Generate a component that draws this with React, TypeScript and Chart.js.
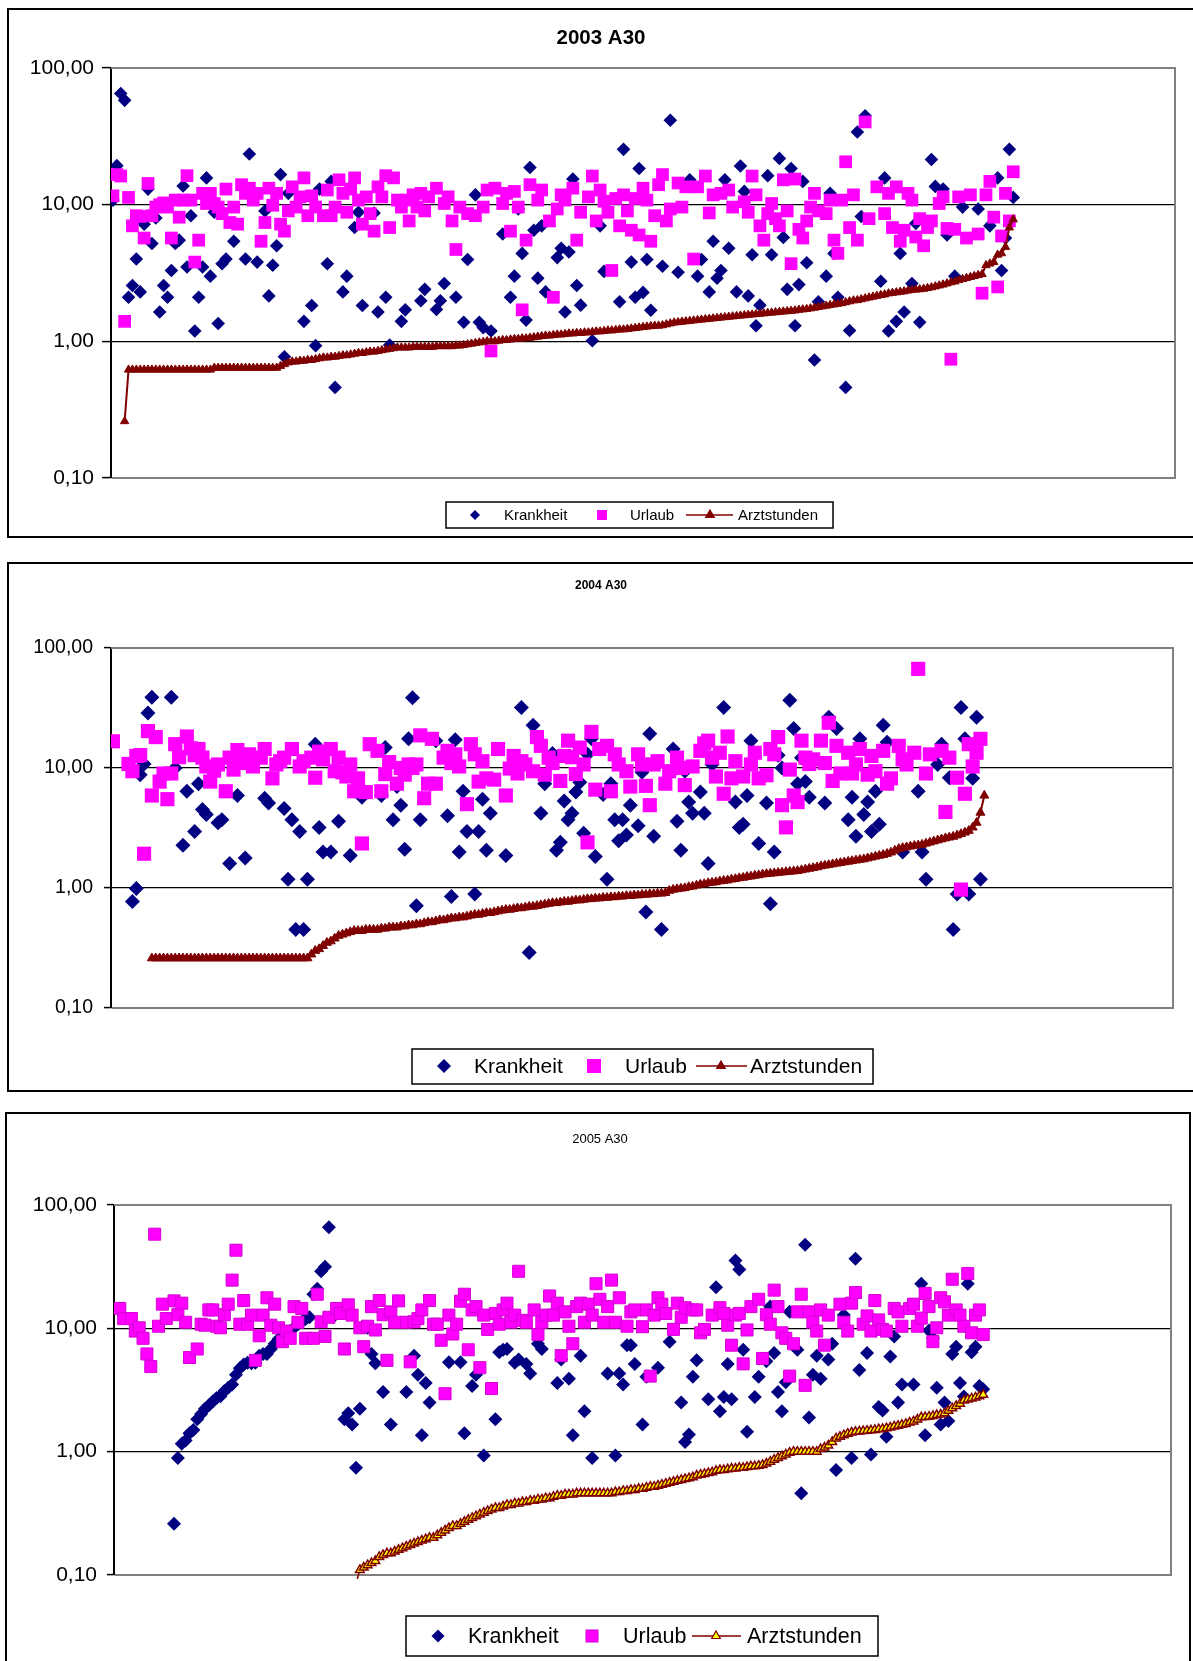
import React, { useEffect, useRef } from 'react';
import { Chart, registerables } from 'chart.js';

Chart.register(...registerables);

const FONT = '"Liberation Sans", Arial, Helvetica, sans-serif';

// ---------- shared axis / text data ----------
const CATEGORY_COUNT = 273;
const yTickValues = [0.1, 1, 10, 100];
const yTickLabels = ['0,10', '1,00', '10,00', '100,00'];
const seriesNames = ['Krankheit', 'Urlaub', 'Arztstunden'];
const chartTitles = ['2003 A30', '2004 A30', '2005 A30'];

type Pair = [number, number]; // [category index, value]

// ---------- 2003 ----------
const krankheit2003: Pair[] = [
  [0,10.8],[1,19.3],[2,65],[3,58],[4,2.1],[5,2.56],[6,4.0],[7,2.3],[8,7.2],[9,13],[10,5.2],[11,8.0],[12,1.64],[13,2.56],[14,2.1],[15,3.3],[16,5.2],[17,5.5],[18,13.7],[19,3.5],[20,8.3],[21,1.19],[22,2.1],[23,3.5],[24,15.7],[25,3.0],[26,8.8],[27,1.35],[28,3.7],[29,4.0],[31,5.4],[34,4.0],[35,23.5],[37,3.8],[39,9.0],[40,2.15],[41,3.6],[42,5.0],[43,16.6],[44,0.77],[45,12.1],[49,1.4],[51,1.83],[52,0.93],[53,13],[55,3.7],[56,14.8],[57,0.46],[59,2.3],[60,3.0],[62,6.8],[63,8.8],[64,1.83],[67,8.7],[68,1.64],[70,2.1],[71,0.94],[74,1.4],[75,1.7],[79,1.98],[80,2.4],[83,1.71],[84,1.98],[85,2.65],[88,2.1],[90,1.38],[91,3.97],[93,11.8],[94,1.38],[95,1.26],[97,1.19],[100,6.1],[102,2.1],[103,3.0],[104,9.3],[105,4.4],[106,1.43],[107,18.7],[108,6.5],[109,2.9],[110,7.0],[111,2.3],[114,4.1],[115,4.8],[116,1.64],[117,4.5],[118,15.4],[119,2.56],[120,1.84],[123,1.01],[125,7.0],[126,3.25],[130,1.95],[131,25.4],[133,3.8],[134,2.1],[135,18.4],[136,2.28],[137,3.97],[138,1.69],[141,3.54],[143,41.5],[145,3.2],[148,15.2],[150,3.0],[151,3.97],[153,2.3],[154,5.4],[155,2.9],[156,3.3],[157,15.2],[158,4.8],[160,2.3],[161,19.2],[162,12.5],[163,2.15],[164,4.3],[165,1.3],[166,1.84],[168,16.3],[169,4.3],[171,21.8],[172,5.76],[173,2.4],[174,18.4],[175,1.3],[176,2.6],[177,14.8],[178,3.76],[180,0.73],[181,1.95],[183,3.0],[184,12.1],[185,4.4],[186,2.1],[188,0.46],[189,1.2],[191,34],[192,8.2],[193,44.7],[197,2.75],[198,15.7],[199,1.19],[201,1.4],[202,4.4],[203,1.64],[205,2.65],[206,7.3],[207,1.38],[210,21.4],[211,13.6],[213,13],[214,6.0],[216,3.0],[218,9.6],[222,9.3],[225,7.0],[227,15.7],[228,3.3],[229,5.7],[230,25.4],[231,11.3]
];
const urlaub2003: Pair[] = [
  [0,11.6],[1,16.6],[2,16.2],[3,1.4],[4,11.3],[5,7],[6,8.3],[7,8.2],[8,5.7],[9,14.3],[10,8.3],[11,9.6],[12,10],[13,10.3],[14,9.6],[15,5.7],[16,10.8],[17,8.1],[18,10.8],[19,16.3],[20,10.8],[21,3.8],[22,5.5],[23,12.1],[24,10.2],[25,12.1],[26,10.2],[27,9.6],[28,8.6],[29,13],[30,7.4],[31,9.6],[32,7.2],[33,14],[34,12.1],[35,13.2],[36,10.8],[37,12.1],[38,5.4],[39,7.4],[40,13.2],[41,9.9],[42,12.1],[43,7.2],[44,6.4],[45,9],[46,13.5],[47,9.6],[48,11.4],[49,15.7],[50,8.3],[51,11.6],[52,9.6],[54,8.3],[55,12.8],[56,8.3],[57,9.6],[58,15.2],[59,12.1],[60,8.8],[61,13],[62,15.7],[63,10.8],[64,7.2],[65,11.4],[66,8.6],[67,6.4],[68,13.5],[69,11.4],[70,16.3],[71,6.8],[72,15.7],[73,10.8],[74,9.6],[75,10.8],[76,7.6],[77,11.8],[78,9.6],[79,12.1],[80,9],[81,11.4],[83,13.2],[85,10.2],[86,11.4],[87,7.6],[88,4.7],[89,9.6],[91,8.6],[93,8.3],[95,9.6],[96,12.8],[97,0.85],[98,13.2],[100,10.2],[101,12.1],[102,6.4],[103,12.5],[104,9.6],[105,1.7],[106,5.5],[107,14],[109,10.8],[110,12.8],[112,7.6],[113,2.1],[114,9.3],[115,11.8],[116,10.8],[118,13.2],[119,5.5],[120,8.8],[122,11.4],[123,16.2],[124,7.6],[125,12.8],[126,10.6],[127,8.8],[128,3.3],[129,11.1],[130,7.0],[131,11.8],[132,9],[133,6.5],[134,11.1],[135,6.0],[136,13.2],[137,10.8],[138,5.4],[139,8.3],[140,14],[141,16.6],[142,7.6],[143,9.3],[145,14.4],[146,9.6],[147,13.5],[149,4.0],[150,13.5],[152,16.2],[153,8.7],[154,11.8],[156,12.1],[158,12.8],[159,9.6],[162,10.5],[163,8.8],[164,16.2],[165,11.8],[166,7.0],[167,5.5],[168,8.6],[169,10.2],[170,7.9],[171,7.0],[172,15.2],[173,9],[174,3.7],[175,15.4],[176,6.6],[177,5.7],[178,7.6],[179,9.6],[180,12.1],[181,9],[183,8.6],[184,10.8],[185,5.5],[186,4.4],[187,10.8],[188,20.6],[189,6.8],[190,11.8],[191,5.5],[193,40.3],[194,7.9],[196,13.5],[198,8.6],[199,12.1],[200,6.8],[201,13.5],[202,5.4],[203,6.5],[204,12.1],[205,10.8],[206,5.8],[207,7.9],[208,5.0],[209,6.8],[210,7.6],[212,10.2],[213,11.4],[214,6.7],[215,0.74],[216,6.6],[217,11.4],[219,5.7],[220,11.8],[222,6.1],[223,2.25],[224,11.8],[225,14.8],[226,8.1],[227,2.5],[228,5.9],[229,12.1],[230,7.6],[231,17.4]
];
const arzt2003Start = 3;
const arzt2003: number[] = [
  0.26,
  0.62,0.62,0.62,0.62,0.62,0.62,0.62,0.62,0.62,0.62,0.62,0.62,0.62,0.62,0.62,0.62,0.62,0.62,0.62,0.62,0.62,0.62,
  0.64,0.64,0.64,0.64,0.64,0.64,0.64,0.64,0.64,0.64,0.64,0.64,0.64,0.64,0.64,0.64,0.64,
  0.66,0.68,0.70,0.71,0.71,0.72,0.72,0.73,0.73,0.74,0.75,0.76,0.76,0.77,0.77,0.78,0.79,0.79,0.8,0.81,0.82,0.82,0.83,0.84,0.84,0.85,0.86,0.87,0.88,0.89,0.9,0.9,0.9,0.9,0.91,0.91,0.91,0.91,
  0.91,0.91,0.92,0.92,0.92,0.92,0.92,0.93,0.93,
  0.94,0.95,0.96,0.97,0.98,0.99,1.0,1.0,1.0,1.01,
  1.02,1.02,1.03,1.04,1.04,1.05,1.05,1.06,1.07,1.08,
  1.09,1.1,1.1,1.11,1.12,1.12,1.13,1.14,1.14,1.15,
  1.15,1.16,1.16,1.17,1.18,1.18,1.19,1.2,1.2,1.21,
  1.22,1.22,1.23,1.24,1.25,1.26,1.27,1.28,1.29,1.3,
  1.3,1.31,1.33,1.35,1.37,1.38,1.39,1.4,1.41,1.42,
  1.43,1.44,1.45,1.46,1.47,1.48,1.49,1.5,1.51,1.52,
  1.53,1.54,1.55,1.56,1.57,1.58,1.59,1.6,1.61,1.62,
  1.63,1.64,1.65,1.66,1.67,1.68,1.7,1.71,1.72,1.74,
  1.76,1.78,1.8,1.82,1.84,1.86,1.88,1.9,1.93,1.96,
  1.99,2.0,2.03,2.06,2.09,2.12,2.15,2.18,2.2,2.24,
  2.26,2.28,2.3,2.32,2.35,2.37,2.39,2.4,2.42,2.45,
  2.48,2.52,2.56,2.6,2.65,2.7,2.74,2.8,2.85,2.9,
  2.95,3.0,3.05,3.1,3.6,3.7,3.8,4.3,4.4,4.9,
  6.8,7.8
];

// ---------- 2004 ----------
const krankheit2004: Pair[] = [
  [5,0.77],[6,0.99],[7,8.8],[8,10.8],[9,28.7],[10,38.8],[15,38.8],[16,10],[18,2.27],[19,6.4],[21,2.96],[22,7.4],[23,4.5],[24,4.1],[27,3.5],[28,3.7],[30,1.6],[32,5.9],[34,1.78],[39,5.6],[40,5.1],[44,4.6],[45,1.18],[46,3.7],[47,0.45],[48,2.96],[49,0.45],[50,1.18],[52,15.8],[53,3.2],[54,2.0],[56,2.0],[58,3.6],[61,1.87],[64,5.7],[69,5.9],[70,14.8],[72,3.7],[73,7.0],[74,4.9],[75,2.1],[76,17.5],[77,38.5],[78,0.71],[79,3.7],[83,16.9],[86,4.0],[87,0.85],[88,17.2],[89,2.0],[90,6.4],[91,2.96],[93,0.89],[94,2.96],[95,5.5],[96,2.06],[97,4.2],[101,1.87],[105,32],[107,0.29],[108,22.7],[110,4.2],[111,7.4],[113,13.2],[114,2.06],[115,2.4],[116,5.3],[117,3.7],[118,4.2],[119,6.3],[120,7.6],[121,2.86],[122,13],[123,17.5],[124,1.83],[126,6],[127,1.18],[128,7.4],[129,3.7],[130,2.48],[131,3.7],[132,2.77],[133,4.9],[135,3.3],[136,9.2],[137,0.63],[138,19.3],[139,2.7],[141,0.45],[144,14.4],[145,3.6],[146,2.06],[147,9.4],[148,5.2],[149,4.2],[151,6.3],[152,4.2],[153,1.6],[154,10.7],[157,32],[160,5.2],[161,3.2],[162,3.4],[163,5.9],[164,16.9],[166,2.35],[168,5.1],[169,0.74],[170,2.0],[171,12.8],[172,10],[174,36.7],[175,21.3],[176,7.4],[177,12.2],[178,7.7],[179,5.7],[183,5.1],[184,26.5],[186,21.3],[189,3.7],[190,5.7],[191,2.7],[192,17.5],[193,4.1],[194,5.2],[195,2.96],[196,6.4],[197,3.4],[198,22.7],[199,16.4],[203,2.0],[207,6.4],[208,2.0],[209,1.18],[212,10.7],[213,15.8],[215,8.3],[216,0.45],[217,0.89],[218,32],[219,17.5],[220,0.89],[221,8.2],[222,26.5],[223,1.18]
];
const urlaub2004: Pair[] = [
  [0,16.7],[4,10.8],[5,9.4],[6,12.6],[7,12.8],[8,1.93],[9,20.3],[10,5.9],[11,18.1],[12,7.7],[13,9],[14,5.5],[15,9],[16,15.8],[17,12.3],[19,18.3],[20,14.6],[21,12.8],[22,14.4],[23,12.2],[24,10.3],[25,7.7],[26,9.5],[27,10.7],[29,6.4],[30,12.2],[31,9.7],[32,14.1],[33,11],[34,11.8],[35,13],[36,10.3],[38,12.2],[39,14.4],[41,8.2],[42,10.7],[43,11.4],[44,12.2],[46,14.4],[48,10.3],[49,11.4],[51,12.2],[52,8.3],[53,13.7],[54,11.8],[56,14.4],[57,9.4],[58,12.2],[59,9.2],[60,8.5],[61,10.7],[62,6.4],[63,8.2],[64,2.35],[65,6.3],[66,15.8],[68,13.9],[69,6.4],[70,8.9],[71,11.2],[73,7.4],[74,10],[75,8.8],[76,10.7],[77,10.0],[78,10.7],[79,18.7],[80,5.6],[81,7.4],[82,17.5],[83,7.4],[85,12.2],[86,13.9],[87,11],[88,13],[89,10.3],[91,5],[92,15.8],[93,13],[94,7.7],[95,11.4],[96,8.2],[98,8],[99,14.4],[101,5.9],[102,9.9],[103,12.6],[104,9],[105,11.4],[106,10.7],[108,9.4],[109,18.1],[110,15.3],[111,8.8],[112,12.2],[113,11],[115,7.8],[116,12.6],[117,16.9],[118,12.3],[119,8.9],[120,14.8],[121,10.7],[122,2.4],[123,20],[124,6.6],[125,14.4],[127,15.3],[128,6.4],[129,13],[130,10.7],[132,9.4],[133,7],[135,13],[136,10.7],[137,7.1],[138,4.9],[139,10.7],[140,11.4],[142,7.4],[143,9.4],[145,12.2],[146,10],[147,7.2],[149,10.3],[151,13.9],[152,16],[153,16.9],[154,12.2],[155,8.5],[156,13.4],[157,6.1],[158,18.3],[159,8.2],[160,11.4],[162,8.5],[164,10.7],[165,13.4],[166,8.2],[168,8.7],[169,14.4],[170,13],[171,18.1],[172,4.9],[173,3.2],[174,9.7],[175,5.9],[176,5.2],[177,16.9],[178,12.2],[179,10.8],[180,11.8],[182,16.9],[183,11],[184,23.8],[185,7.8],[186,15.3],[187,9],[189,13.4],[190,9],[191,10.7],[192,14.4],[194,8.8],[195,12.6],[196,9.4],[198,13.9],[199,7.4],[200,8.2],[202,15.3],[203,11.8],[204,10.7],[206,13.4],[207,67],[209,9],[210,13],[213,13.9],[214,4.3],[215,12.2],[217,8.3],[218,0.97],[219,6.1],[220,15.8],[221,10.3],[222,13.4],[223,17.5]
];
const arzt2004Start = 10;
const arzt2004: number[] = [
  0.26,0.26,0.26,0.26,0.26,0.26,0.26,0.26,0.26,0.26,
  0.26,0.26,0.26,0.26,0.26,0.26,0.26,0.26,0.26,0.26,
  0.26,0.26,0.26,0.26,0.26,0.26,0.26,0.26,0.26,0.26,
  0.26,0.26,0.26,0.26,0.26,0.26,0.26,0.26,0.26,0.26,
  0.26,
  0.28,0.3,0.31,0.33,0.35,0.36,0.38,0.4,0.41,
  0.42,0.43,0.44,0.44,0.44,0.45,0.45,0.45,0.45,0.46,
  0.46,0.47,0.47,0.47,0.48,0.48,0.49,0.49,0.5,0.5,
  0.51,0.52,0.52,0.53,0.54,0.54,0.55,0.56,0.56,0.57,
  0.57,0.58,0.59,0.6,0.6,0.61,0.62,0.62,0.63,0.64,
  0.65,0.66,0.66,0.67,0.68,0.68,0.69,0.7,0.7,0.71,
  0.72,0.73,0.74,0.75,0.75,0.76,0.77,0.77,0.78,0.79,
  0.79,0.8,0.81,0.81,0.82,0.82,0.83,0.83,0.84,0.84,
  0.85,0.85,0.86,0.86,0.87,0.87,0.88,0.88,0.89,0.89,
  0.9,0.9,0.91,0.95,0.97,0.98,0.99,1.0,1.02,1.03,
  1.05,1.07,1.08,1.1,1.11,1.12,1.14,1.15,1.16,1.18,
  1.19,1.21,1.22,1.24,1.25,1.27,1.28,1.3,1.31,1.32,
  1.33,1.34,1.35,1.36,1.37,1.38,1.39,1.41,1.43,1.45,
  1.47,1.49,1.52,1.54,1.56,1.58,1.6,1.62,1.64,1.66,
  1.68,1.7,1.72,1.74,1.77,1.8,1.83,1.86,1.89,1.93,
  1.98,2.05,2.12,2.16,2.19,2.22,2.25,2.27,2.3,2.35,
  2.4,2.45,2.5,2.55,2.6,2.64,2.68,2.75,2.82,2.9,
  3.0,3.2,3.5,4.25,5.9
];

// ---------- 2005 ----------
const krankheit2005: Pair[] = [
  [15,0.26],[16,0.89],[17,1.16],[18,1.23],[19,1.41],[20,1.5],[21,1.83],[22,2.02],[23,2.23],[24,2.38],[25,2.55],[26,2.72],[27,2.81],[28,3.1],[29,3.3],[30,3.5],[31,4.2],[32,4.75],[33,5.1],[34,5.25],[35,5.2],[36,5.25],[37,6.0],[38,6.2],[39,6.2],[40,6.8],[41,7.5],[42,8.2],[43,8.6],[44,9.3],[45,9.5],[46,10.1],[47,10.8],[48,11.3],[49,11.9],[50,12.3],[51,18.9],[52,20.9],[53,29],[54,31.6],[55,66],[56,12.3],[59,1.83],[60,2.05],[61,1.66],[62,0.74],[63,2.23],[65,10.1],[66,6.2],[67,5.2],[69,3.04],[71,1.66],[75,3.04],[77,6.0],[78,4.2],[79,1.36],[80,3.6],[81,2.5],[86,5.3],[89,5.3],[90,1.41],[92,3.4],[93,4.2],[95,0.93],[98,1.83],[99,6.4],[100,6.7],[101,6.8],[103,5.25],[104,5.6],[106,5.15],[107,4.3],[109,7.5],[110,6.8],[114,3.6],[115,5.6],[117,3.9],[118,1.36],[120,6.0],[121,2.13],[123,0.89],[127,4.3],[129,0.93],[130,4.3],[131,3.5],[132,7.3],[133,7.3],[134,5.15],[136,1.66],[137,4.05],[140,4.8],[143,7.8],[146,2.5],[147,1.2],[148,1.38],[149,4.05],[150,5.5],[153,2.66],[155,21.5],[156,2.13],[157,2.77],[158,5.15],[159,2.66],[160,35.5],[161,30],[162,6.7],[163,1.45],[165,2.77],[166,4.05],[168,5.4],[169,15],[170,6.3],[171,3.04],[172,2.13],[173,3.65],[174,13.6],[176,6.7],[177,0.46],[178,47.6],[179,1.89],[180,4.2],[181,6.0],[182,3.9],[184,5.6],[185,7.5],[186,0.71],[188,12.8],[190,0.89],[191,36.6],[192,4.6],[194,6.3],[195,0.95],[197,2.3],[198,2.16],[199,1.32],[200,5.9],[201,8.6],[202,2.5],[203,3.5],[205,15],[206,3.5],[208,23],[209,1.36],[210,9.6],[211,8.3],[212,3.3],[213,1.66],[214,2.5],[215,1.77],[216,6.2],[217,7.1],[218,3.6],[219,2.8],[220,23],[221,6.4],[222,7.1],[223,3.4],[224,3.2]
];
const urlaub2005: Pair[] = [
  [1,14.5],[2,12],[4,12],[5,9.5],[6,10.1],[7,8.3],[8,6.2],[9,4.9],[10,58],[11,10.4],[12,15.7],[13,12],[15,16.7],[16,12.9],[17,16],[18,11.2],[19,5.8],[21,6.8],[22,10.8],[23,10.6],[24,14.1],[25,14.1],[26,10.4],[27,10.1],[28,12.9],[29,15.7],[30,24.6],[31,43],[32,10.8],[33,16.8],[34,10.8],[35,12.8],[36,5.5],[37,8.7],[38,12.8],[39,17.7],[40,10.6],[41,15.7],[42,10.1],[43,7.8],[44,9.5],[45,8.3],[46,15],[47,11.2],[48,14.5],[49,8.3],[51,8.3],[52,18.9],[53,11.3],[54,8.6],[55,12.3],[57,14.5],[58,13.2],[59,6.8],[60,15.5],[61,12.8],[63,10.1],[64,7.1],[65,10.4],[66,15],[67,9.7],[68,16.8],[69,12.9],[70,5.5],[71,13.6],[72,11.2],[73,16.7],[75,11.2],[76,5.35],[77,11.3],[78,12.0],[79,14.1],[81,16.8],[82,10.8],[83,10.8],[84,8],[85,2.95],[86,12.8],[87,9],[88,10.8],[89,16.6],[90,18.9],[91,6.7],[92,14.1],[93,15],[94,4.8],[95,12.8],[96,9.8],[97,3.25],[98,13.2],[99,10.8],[100,14.1],[101,16],[102,11.2],[103,12.8],[104,29],[105,11.6],[106,11.2],[108,14.1],[109,8.9],[110,11.2],[111,12.8],[112,18.3],[113,12.8],[114,16],[115,6],[116,13.6],[117,10.4],[118,7.5],[119,15],[120,16],[121,11.2],[122,15.7],[123,12.8],[124,23],[125,17.2],[126,11.2],[127,15],[128,24.6],[129,11.2],[130,17.7],[132,10.4],[133,13.6],[134,14.1],[136,10.3],[137,14.1],[138,4.1],[139,12.8],[140,17.7],[141,15.7],[142,13.2],[144,9.8],[145,16],[146,12.3],[147,14.7],[149,14.1],[150,14.1],[151,9.2],[152,9.8],[154,12.8],[156,14.7],[157,13.2],[158,10.6],[159,7.3],[160,12.8],[161,13.2],[162,5.15],[163,9.7],[164,15],[166,17.2],[167,5.7],[168,12.9],[169,10.8],[170,20.4],[171,15],[172,9.2],[173,8.3],[174,4.1],[175,7.5],[176,13.6],[177,18.9],[178,3.45],[179,13.6],[180,11.2],[181,9.5],[182,14.1],[183,7.3],[184,12.8],[187,15.7],[188,11.2],[189,9.5],[190,16],[191,19.5],[193,10.8],[194,12.6],[195,9.5],[196,16.8],[197,11.7],[198,9.8],[199,9.5],[201,14.5],[202,13.6],[203,10.4],[205,14.5],[206,15.7],[207,10.4],[208,12.1],[209,19.2],[210,15],[211,7.8],[212,10.1],[213,17.7],[214,16.4],[215,12.8],[216,25],[217,14.1],[218,12.8],[219,10.4],[220,27.8],[221,9.2],[222,12.8],[223,14.1],[224,8.9]
];
const arzt2005Start = 62;
const arzt2005: number[] = [
  0.085,0.11,0.115,0.12,0.125,0.13,0.14,0.145,
  0.15,0.15,0.155,0.16,0.165,0.17,0.175,0.18,0.185,0.19,
  0.195,0.2,0.2,0.21,0.22,0.23,0.24,0.25,0.25,0.26,
  0.27,0.28,0.29,0.3,0.31,0.32,0.33,0.34,0.35,0.35,
  0.36,0.37,0.37,0.38,0.38,0.39,0.39,0.4,0.4,0.41,
  0.41,0.42,0.42,0.43,0.44,0.44,0.45,0.45,0.45,0.46,
  0.46,0.46,0.46,0.46,0.46,0.46,0.46,0.46,0.46,0.47,
  0.47,0.48,0.48,0.49,0.49,0.5,0.5,0.51,0.52,0.52,
  0.53,0.54,0.55,0.56,0.57,0.58,0.59,0.6,0.61,0.62,
  0.64,0.65,0.66,0.67,0.68,0.7,0.71,0.71,0.72,0.73,
  0.73,0.74,0.74,0.75,0.76,0.76,0.77,0.78,0.8,0.83,
  0.86,0.89,0.92,0.95,0.98,1.0,1.0,1.0,1.0,1.0,
  1.0,1.0,1.05,1.08,1.12,1.2,1.28,1.32,1.36,1.4,
  1.43,1.45,1.46,1.47,1.48,1.49,1.5,1.52,1.53,1.55,
  1.57,1.6,1.62,1.65,1.68,1.72,1.76,1.82,1.9,1.91,
  1.92,1.95,1.98,2.0,2.05,2.15,2.25,2.35,2.45,2.6,
  2.65,2.7,2.75,2.82,2.9
];

// ---------- layout / style (page coordinates) ----------
interface PanelDef {
  title: string;
  titleFont: number;
  titleBold: boolean;
  titleX: number;
  titleY: number;
  krankheit: Pair[];
  urlaub: Pair[];
  arztStart: number;
  arzt: number[];
  frame: { left: number; top: number; width: number; height: number };
  canvas: { left: number; top: number; width: number; height: number };
  plot: { left: number; top: number; right: number; bottom: number };
  tickFont: number;
  tickLength: number;
  tickPadding: number;
  diamondR: number;
  squareR: number;
  squareBorder: string | null;
  triR: number;
  triFill: string;
  triBorderW: number;
  lineW: number;
  legend: {
    x: number; y: number; w: number; h: number; cy: number; font: number;
    dX: number; dR: number; t1: number; sX: number; sHalf: number; t2: number;
    l1: number; l2: number; tX: number; tR: number; t3: number;
  };
}

const panels: PanelDef[] = [
  {
    title: chartTitles[0], titleFont: 20.5, titleBold: true, titleX: 601, titleY: 38,
    krankheit: krankheit2003, urlaub: urlaub2003, arztStart: arzt2003Start, arzt: arzt2003,
    frame: { left: 7, top: 8, width: 1300, height: 530 },
    canvas: { left: 9, top: 10, width: 1184, height: 526 },
    plot: { left: 111, top: 68, right: 1175, bottom: 478 },
    tickFont: 21, tickLength: 9, tickPadding: 8,
    diamondR: 6.8, squareR: 9, squareBorder: null, triR: 4.8, triFill: '#800000', triBorderW: 1, lineW: 2,
    legend: { x: 446, y: 502, w: 387, h: 26, cy: 515, font: 15,
      dX: 475, dR: 5, t1: 504, sX: 602, sHalf: 5, t2: 630, l1: 686, l2: 733, tX: 710, tR: 5, t3: 738 },
  },
  {
    title: chartTitles[1], titleFont: 12, titleBold: true, titleX: 601, titleY: 586,
    krankheit: krankheit2004, urlaub: urlaub2004, arztStart: arzt2004Start, arzt: arzt2004,
    frame: { left: 7, top: 562, width: 1300, height: 530 },
    canvas: { left: 9, top: 564, width: 1184, height: 526 },
    plot: { left: 111, top: 648, right: 1173, bottom: 1008 },
    tickFont: 19.5, tickLength: 7, tickPadding: 11,
    diamondR: 7.5, squareR: 10, squareBorder: null, triR: 5.2, triFill: '#800000', triBorderW: 1, lineW: 2,
    legend: { x: 412, y: 1049, w: 461, h: 35, cy: 1066, font: 21,
      dX: 444, dR: 7, t1: 474, sX: 594, sHalf: 7, t2: 625, l1: 696, l2: 747, tX: 721, tR: 5, t3: 750 },
  },
  {
    title: chartTitles[2], titleFont: 13, titleBold: false, titleX: 600, titleY: 1139,
    krankheit: krankheit2005, urlaub: urlaub2005, arztStart: arzt2005Start, arzt: arzt2005,
    frame: { left: 5, top: 1112, width: 1186, height: 600 },
    canvas: { left: 7, top: 1114, width: 1183, height: 547 },
    plot: { left: 114, top: 1205, right: 1171, bottom: 1575 },
    tickFont: 21, tickLength: 7, tickPadding: 10,
    diamondR: 7, squareR: 8.5, squareBorder: '#D400D4', triR: 5, triFill: '#FFFF00', triBorderW: 1.5, lineW: 1.5,
    legend: { x: 406, y: 1616, w: 472, h: 40, cy: 1636, font: 21.5,
      dX: 438, dR: 6.5, t1: 468, sX: 592, sHalf: 6, t2: 623, l1: 692, l2: 741, tX: 716, tR: 5, t3: 747 },
  },
];

const Y_AXIS_WIDTH = 95;

function diamondPath(ctx: CanvasRenderingContext2D, x: number, y: number, r: number) {
  ctx.beginPath();
  ctx.moveTo(x, y - r);
  ctx.lineTo(x + r, y);
  ctx.lineTo(x, y + r);
  ctx.lineTo(x - r, y);
  ctx.closePath();
}
function trianglePath(ctx: CanvasRenderingContext2D, x: number, y: number, r: number) {
  ctx.beginPath();
  let a = 0;
  ctx.moveTo(x + Math.sin(a) * r, y - Math.cos(a) * r);
  a += (2 * Math.PI) / 3;
  ctx.lineTo(x + Math.sin(a) * r, y - Math.cos(a) * r);
  a += (2 * Math.PI) / 3;
  ctx.lineTo(x + Math.sin(a) * r, y - Math.cos(a) * r);
  ctx.closePath();
}

function makeDecorPlugin(p: PanelDef) {
  const ox = p.canvas.left;
  const oy = p.canvas.top;
  return {
    id: 'panelDecor',
    beforeDatasetsDraw(chart: any) {
      const { ctx, chartArea: a } = chart;
      ctx.save();
      ctx.strokeStyle = '#808080';
      ctx.lineWidth = 2;
      ctx.beginPath();
      ctx.moveTo(a.left, a.top);
      ctx.lineTo(a.right, a.top);
      ctx.lineTo(a.right, a.bottom);
      ctx.lineTo(a.left + 1, a.bottom);
      ctx.stroke();
      ctx.restore();
    },
    afterDraw(chart: any) {
      const ctx: CanvasRenderingContext2D = chart.ctx;
      ctx.save();
      // title
      ctx.fillStyle = '#000';
      ctx.textAlign = 'center';
      ctx.textBaseline = 'middle';
      ctx.font = `${p.titleBold ? 'bold ' : ''}${p.titleFont}px ${FONT}`;
      ctx.fillText(p.title, p.titleX - ox, p.titleY - oy);

      // legend
      const L = p.legend;
      ctx.fillStyle = '#fff';
      ctx.fillRect(L.x - ox, L.y - oy, L.w, L.h);
      ctx.strokeStyle = '#000';
      ctx.lineWidth = 1.5;
      ctx.strokeRect(L.x - ox, L.y - oy, L.w, L.h);
      const cy = L.cy - oy;
      // Krankheit marker
      ctx.fillStyle = '#000080';
      diamondPath(ctx, L.dX - ox, cy, L.dR);
      ctx.fill();
      // Urlaub marker
      ctx.fillStyle = '#FF00FF';
      ctx.fillRect(L.sX - ox - L.sHalf, cy - L.sHalf, L.sHalf * 2, L.sHalf * 2);
      if (p.squareBorder) {
        ctx.strokeStyle = p.squareBorder;
        ctx.lineWidth = 1;
        ctx.strokeRect(L.sX - ox - L.sHalf, cy - L.sHalf, L.sHalf * 2, L.sHalf * 2);
      }
      // Arztstunden line + marker
      ctx.strokeStyle = '#800000';
      ctx.lineWidth = 1.5;
      ctx.beginPath();
      ctx.moveTo(L.l1 - ox, cy);
      ctx.lineTo(L.l2 - ox, cy);
      ctx.stroke();
      ctx.fillStyle = p.triFill;
      trianglePath(ctx, L.tX - ox, cy, L.tR);
      ctx.fill();
      ctx.lineWidth = 1.2;
      ctx.strokeStyle = '#800000';
      ctx.stroke();
      // texts
      ctx.fillStyle = '#000';
      ctx.textAlign = 'left';
      ctx.textBaseline = 'middle';
      ctx.font = `${L.font}px ${FONT}`;
      ctx.fillText(seriesNames[0], L.t1 - ox, cy + 1);
      ctx.fillText(seriesNames[1], L.t2 - ox, cy + 1);
      ctx.fillText(seriesNames[2], L.t3 - ox, cy + 1);
      ctx.restore();
    },
  };
}

function buildConfig(p: PanelDef): any {
  const c = p.canvas;
  const plotLeftC = p.plot.left - c.left;
  const padding = {
    left: plotLeftC - Y_AXIS_WIDTH,
    right: c.width - (p.plot.right - c.left),
    top: p.plot.top - c.top,
    bottom: c.height - (p.plot.bottom - c.top),
  };
  const kPts = p.krankheit.map(([i, v]) => ({ x: i, y: v }));
  const uPts = p.urlaub.map(([i, v]) => ({ x: i, y: v }));
  const aPts = p.arzt.map((v, k) => ({ x: p.arztStart + k, y: v }));

  return {
    type: 'scatter',
    data: {
      datasets: [
        {
          label: seriesNames[0],
          data: kPts,
          showLine: false,
          pointStyle: 'rectRot',
          pointRadius: p.diamondR,
          pointBackgroundColor: '#000080',
          pointBorderColor: '#000080',
          pointBorderWidth: 0,
          order: 3,
        },
        {
          label: seriesNames[1],
          data: uPts,
          showLine: false,
          pointStyle: 'rect',
          pointRadius: p.squareR,
          pointBackgroundColor: '#FF00FF',
          pointBorderColor: p.squareBorder || '#FF00FF',
          pointBorderWidth: p.squareBorder ? 1 : 0,
          order: 2,
        },
        {
          label: seriesNames[2],
          data: aPts,
          showLine: true,
          borderColor: '#800000',
          borderWidth: p.lineW,
          pointStyle: 'triangle',
          pointRadius: p.triR,
          pointBackgroundColor: p.triFill,
          pointBorderColor: '#800000',
          pointBorderWidth: p.triBorderW,
          tension: 0,
          order: 1,
          clip: { left: 8, right: 8, top: 8, bottom: 4 },
        },
      ],
    },
    options: {
      responsive: false,
      maintainAspectRatio: false,
      animation: false,
      devicePixelRatio: 1,
      events: [],
      layout: { padding },
      plugins: {
        legend: { display: false },
        title: { display: false },
        tooltip: { enabled: false },
      },
      scales: {
        x: {
          type: 'linear',
          display: false,
          min: -0.5,
          max: CATEGORY_COUNT - 0.5,
        },
        y: {
          type: 'logarithmic',
          position: 'left',
          min: yTickValues[0],
          max: yTickValues[yTickValues.length - 1],
          afterFit: (scale: any) => {
            scale.width = Y_AXIS_WIDTH;
          },
          afterBuildTicks: (scale: any) => {
            scale.ticks = yTickValues.map((v) => ({ value: v }));
          },
          ticks: {
            autoSkip: false,
            color: '#000',
            padding: p.tickPadding,
            font: { family: FONT, size: p.tickFont },
            callback: (value: any) => {
              const idx = yTickValues.indexOf(Number(value));
              return idx >= 0 ? yTickLabels[idx] : '';
            },
          },
          grid: {
            color: (ctx: any) => {
              const v = ctx.tick ? ctx.tick.value : null;
              return v === 1 || v === 10 ? '#000000' : 'rgba(0,0,0,0)';
            },
            lineWidth: 1.2,
            tickLength: p.tickLength,
            tickColor: '#000000',
            tickWidth: 1.5,
            drawTicks: true,
          },
          border: { display: true, color: '#000000', width: 2 },
        },
      },
    },
    plugins: [makeDecorPlugin(p)],
  };
}

function ChartPanel({ panel }: { panel: PanelDef }) {
  const ref = useRef<HTMLCanvasElement | null>(null);
  useEffect(() => {
    if (!ref.current) return;
    const chart = new Chart(ref.current, buildConfig(panel));
    return () => chart.destroy();
  }, [panel]);
  const f = panel.frame;
  const c = panel.canvas;
  return (
    <>
      <div
        style={{
          position: 'absolute',
          left: f.left,
          top: f.top,
          width: f.width,
          height: f.height,
          border: '2px solid #000',
          boxSizing: 'border-box',
          background: '#fff',
        }}
      />
      <canvas
        ref={ref}
        width={c.width}
        height={c.height}
        style={{ position: 'absolute', left: c.left, top: c.top, width: c.width, height: c.height }}
      />
    </>
  );
}

export default function App() {
  return (
    <div
      style={{
        position: 'absolute',
        left: 0,
        top: 0,
        width: 1193,
        height: 1661,
        overflow: 'hidden',
        background: '#fff',
      }}
    >
      {panels.map((p, i) => (
        <ChartPanel key={i} panel={p} />
      ))}
    </div>
  );
}
